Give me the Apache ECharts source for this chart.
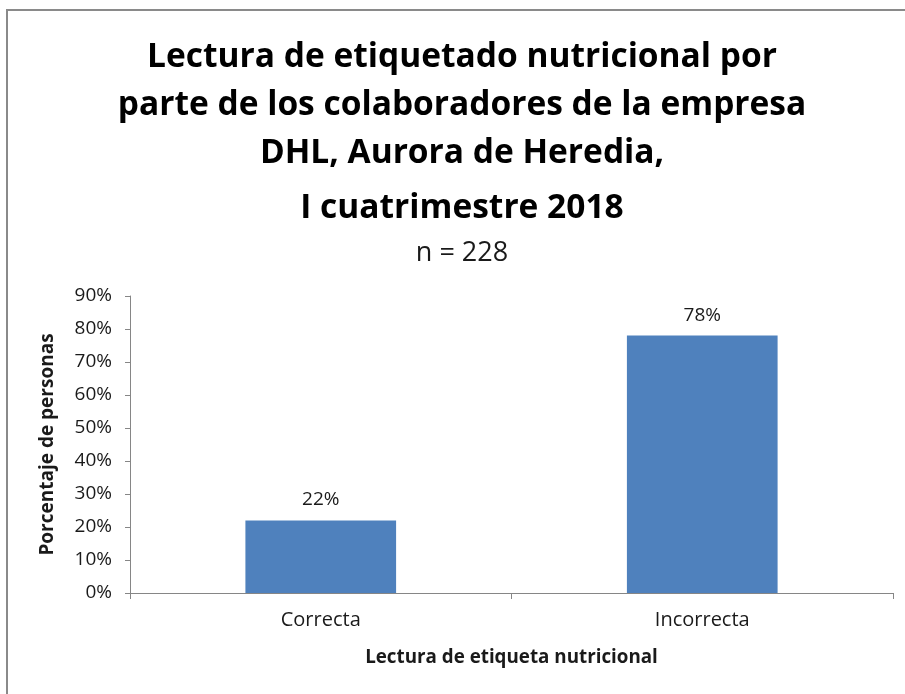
<!DOCTYPE html>
<html>
<head>
<meta charset="utf-8">
<script src="https://cdn.jsdelivr.net/npm/echarts@6/dist/echarts.min.js"></script>
<style>
  html, body { margin: 0; padding: 0; background: #fff; }
  #chart { width: 905px; height: 694px; }
</style>
</head>
<body>
<div id="chart"></div>
<script>
// Lectura de etiquetado nutricional (porcentaje de personas)
const categories = ['Correcta', 'Incorrecta'];
const values = [22, 78];
const yTicks = [0, 10, 20, 30, 40, 50, 60, 70, 80, 90];

const titleLines = [
  'Lectura de etiquetado nutricional por',
  'parte de los colaboradores de la empresa',
  'DHL, Aurora de Heredia,',
  'I cuatrimestre 2018'
];
const subtitle = 'n = 228';
const xName = 'Lectura de etiqueta nutricional';
const yName = 'Porcentaje de personas';

const FONT = '"Open Sans", "Noto Sans", sans-serif';
const AXIS = '#868686';
const TEXT = '#1a1a1a';

// Centre line of the heading block and vertical middles of each heading line
const TITLE_X = 462;
const TITLE_Y = [57, 105, 153, 208];
const SUBTITLE_Y = 253;

const headingText = titleLines.map((line, i) => ({
  type: 'text',
  x: TITLE_X,
  y: TITLE_Y[i],
  style: {
    text: line,
    fontFamily: FONT,
    fontWeight: 'bold',
    fontSize: 33.5,
    fill: '#000',
    align: 'center',
    verticalAlign: 'middle'
  }
}));

const chart = echarts.init(document.getElementById('chart'), null, { renderer: 'canvas' });

chart.setOption({
  backgroundColor: '#ffffff',
  animation: false,
  graphic: [
    { type: 'line', shape: { x1: 6, y1: 10, x2: 905, y2: 10 }, style: { stroke: '#8a8a8a', lineWidth: 2 } },
    { type: 'line', shape: { x1: 7, y1: 9, x2: 7, y2: 694 }, style: { stroke: '#8a8a8a', lineWidth: 2 } },
    ...headingText,
    {
      type: 'text',
      x: TITLE_X,
      y: SUBTITLE_Y,
      style: {
        text: subtitle,
        fontFamily: FONT,
        fontSize: 27,
        fill: TEXT,
        align: 'center',
        verticalAlign: 'middle'
      }
    }
  ],
  grid: { left: 130, right: 12, top: 296, bottom: 101, containLabel: false },
  xAxis: {
    type: 'category',
    data: categories,
    name: xName,
    nameLocation: 'middle',
    nameGap: 55,
    nameTextStyle: { fontFamily: FONT, fontWeight: 'bold', fontSize: 18.8, color: TEXT },
    axisLine: { show: true, lineStyle: { color: AXIS, width: 1 } },
    axisTick: { show: true, length: 6, lineStyle: { color: AXIS } },
    axisLabel: { fontFamily: FONT, fontSize: 20, color: TEXT, margin: 17 },
    splitLine: { show: false }
  },
  yAxis: {
    type: 'value',
    min: yTicks[0],
    max: yTicks[yTicks.length - 1],
    interval: yTicks[1] - yTicks[0],
    name: yName,
    nameLocation: 'middle',
    nameRotate: 90,
    nameGap: 73,
    nameTextStyle: { fontFamily: FONT, fontWeight: 'bold', fontSize: 19, color: TEXT },
    axisLine: { show: true, lineStyle: { color: AXIS, width: 1 } },
    axisTick: { show: true, length: 5, lineStyle: { color: AXIS } },
    axisLabel: { fontFamily: FONT, fontSize: 19, color: TEXT, margin: 18, formatter: '{value}%' },
    splitLine: { show: false }
  },
  series: [
    {
      type: 'bar',
      data: values,
      barWidth: '39.5%',
      itemStyle: { color: '#4f81bd' },
      label: {
        show: true,
        position: 'top',
        distance: 11,
        formatter: '{c}%',
        fontFamily: FONT,
        fontSize: 19,
        color: TEXT
      }
    }
  ]
});
</script>
</body>
</html>
